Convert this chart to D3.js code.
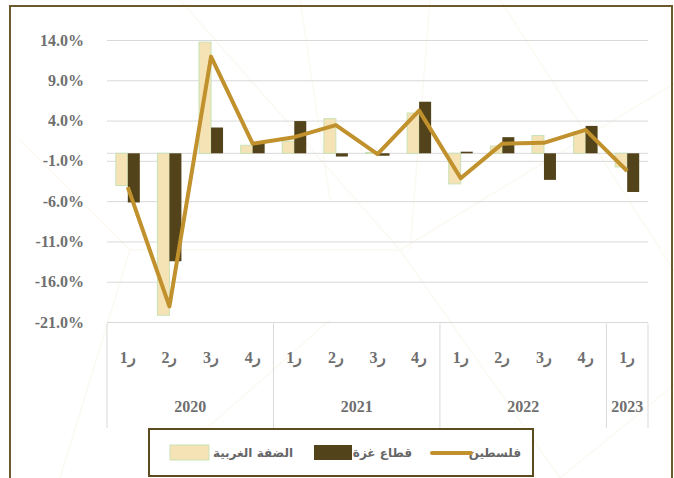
<!DOCTYPE html>
<html lang="ar">
<head>
<meta charset="UTF-8">
<title>Quarterly change</title>
<script src="https://cdn.jsdelivr.net/npm/d3@7"></script>
<style>
  body { margin: 0; background: #fff; }
</style>
</head>
<body>
<div id="container"></div>
<script>
// data (percent)
const years = ["2020", "2021", "2022", "2023"];
const quarters = ["1", "2", "3", "4", "1", "2", "3", "4", "1", "2", "3", "4", "1"];
const quarterYear = ["2020","2020","2020","2020","2021","2021","2021","2021","2022","2022","2022","2022","2023"];
const westBank = [-4.0, -20.1, 13.8, 1.0, 1.5, 4.3, 0.1, 5.0, -3.8, 0.9, 2.2, 2.7, -1.7];
const gaza = [-6.1, -13.4, 3.2, 1.3, 4.0, -0.4, -0.3, 6.4, 0.2, 2.0, -3.3, 3.4, -4.8];
const palestine = [-4.2, -19.0, 12.0, 1.2, 2.0, 3.5, -0.1, 5.3, -3.1, 1.2, 1.3, 2.9, -2.2];
const yTicks = [14, 9, 4, -1, -6, -11, -16, -21];

const W = 674, H = 478;
const plotLeft = 107, plotRight = 648, plotTop = 40.5, plotBottom = 322.5;

let svg = d3.select('#container')
    .append('svg')
    .attr('width', W)
    .attr('height', H);

// faint background decoration
const deco = [[60,478,130,250],[130,250,20,140],[130,250,400,250],[400,250,560,478],
              [400,250,680,80],[430,0,410,250],[180,0,400,250],[500,0,680,280],
              [150,478,330,320],[560,478,680,380],[300,0,330,200]];
svg.append('g').selectAll('line').data(deco).join('line')
    .attr('x1', d => d[0]).attr('y1', d => d[1]).attr('x2', d => d[2]).attr('y2', d => d[3])
    .attr('stroke', '#fbf9f2').attr('stroke-width', 1.5);

// outer frame
svg.append('rect')
    .attr('x', 10).attr('y', 6).attr('width', 662).attr('height', 490)
    .attr('fill', 'none').attr('stroke', '#6b5a2c').attr('stroke-width', 2);

let idx = d3.range(quarters.length);
let x = d3.scaleBand().domain(idx).range([plotLeft, plotRight]);
let y = d3.scaleLinear().domain([-21, 14]).range([plotBottom, plotTop]);
const bw = 12;

// grid
svg.append('g').selectAll('line').data(yTicks).join('line')
    .attr('x1', plotLeft).attr('x2', plotRight)
    .attr('y1', d => y(d)).attr('y2', d => y(d))
    .attr('stroke', '#d9d9d9').attr('stroke-width', 1);

// y labels
svg.append('g').selectAll('text').data(yTicks).join('text')
    .attr('x', 84).attr('y', d => y(d) + 5)
    .attr('text-anchor', 'end')
    .attr('font-family', 'Liberation Serif, serif')
    .attr('font-weight', 'bold').attr('font-size', 16)
    .attr('fill', '#6f6f6f')
    .text(d => d.toFixed(1) + '%');

// zero line
svg.append('line')
    .attr('x1', plotLeft).attr('x2', plotRight).attr('y1', y(0)).attr('y2', y(0))
    .attr('stroke', '#d9d9d9');

// bars
svg.append('g').selectAll('rect').data(westBank).join('rect')
    .attr('x', (d, i) => x(i) + x.bandwidth() / 2 - bw)
    .attr('y', d => y(Math.max(0, d)))
    .attr('width', bw)
    .attr('height', d => Math.abs(y(d) - y(0)))
    .attr('fill', '#f5e3b5').attr('stroke', '#c8e2b6').attr('stroke-width', 1);

svg.append('g').selectAll('rect').data(gaza).join('rect')
    .attr('x', (d, i) => x(i) + x.bandwidth() / 2)
    .attr('y', d => y(Math.max(0, d)))
    .attr('width', bw)
    .attr('height', d => Math.abs(y(d) - y(0)))
    .attr('fill', '#53431a');

// line
let line = d3.line()
    .x((d, i) => x(i) + x.bandwidth() / 2)
    .y(d => y(d));
svg.append('path')
    .datum(palestine)
    .attr('d', line)
    .attr('fill', 'none')
    .attr('stroke', '#c0912c')
    .attr('stroke-width', 4)
    .attr('stroke-linejoin', 'round');

// category axis: separators between years
let bounds = [0];
years.forEach(yr => bounds.push(bounds[bounds.length - 1] + quarterYear.filter(q => q === yr).length));
svg.append('g').selectAll('line').data(bounds).join('line')
    .attr('x1', d => plotLeft + d * x.step()).attr('x2', d => plotLeft + d * x.step())
    .attr('y1', plotBottom + 1).attr('y2', 428)
    .attr('stroke', '#d9d9d9');

// quarter labels, right-to-left so the letter sits right of the digit
svg.append('g').selectAll('text').data(quarters).join('text')
    .attr('x', (d, i) => x(i) + x.bandwidth() / 2)
    .attr('y', 363)
    .attr('text-anchor', 'middle')
    .attr('font-family', 'Liberation Serif, serif')
    .attr('font-weight', 'bold').attr('font-size', 16)
    .attr('fill', '#6f6f6f')
    .text(d => '\u202B' + 'ر' + d + '\u202C');

svg.append('g').selectAll('text').data(years).join('text')
    .attr('x', (d, i) => plotLeft + (bounds[i] + bounds[i + 1]) / 2 * x.step())
    .attr('y', 412)
    .attr('text-anchor', 'middle')
    .attr('font-family', 'Liberation Serif, serif')
    .attr('font-weight', 'bold').attr('font-size', 16)
    .attr('fill', '#6f6f6f')
    .text(d => d);

// legend
let lg = svg.append('g');
lg.append('rect')
    .attr('x', 149).attr('y', 429).attr('width', 384).attr('height', 47)
    .attr('fill', '#fff').attr('stroke', '#5c4b1f').attr('stroke-width', 2);
lg.append('rect').attr('x', 170).attr('y', 445).attr('width', 39).attr('height', 15)
    .attr('fill', '#f5e3b5').attr('stroke', '#c8e2b6');
lg.append('rect').attr('x', 314).attr('y', 445).attr('width', 38).attr('height', 15)
    .attr('fill', '#53431a');
lg.append('line').attr('x1', 432).attr('x2', 471).attr('y1', 453).attr('y2', 453)
    .attr('stroke', '#c0912c').attr('stroke-width', 4).attr('stroke-linecap', 'round');
const legendItems = [["الضفة الغربية", 293], ["قطاع غزة", 412], ["فلسطين", 521]];
lg.selectAll('text.lab').data(legendItems).join('text')
    .attr('class', 'lab')
    .attr('x', d => d[1]).attr('y', 457)
    .attr('direction', 'rtl')
    .attr('text-anchor', 'start')
    .attr('font-family', 'DejaVu Sans, sans-serif')
    .attr('font-weight', 'bold').attr('font-size', 12)
    .attr('fill', '#666')
    .text(d => d[0]);
</script>
</body>
</html>
